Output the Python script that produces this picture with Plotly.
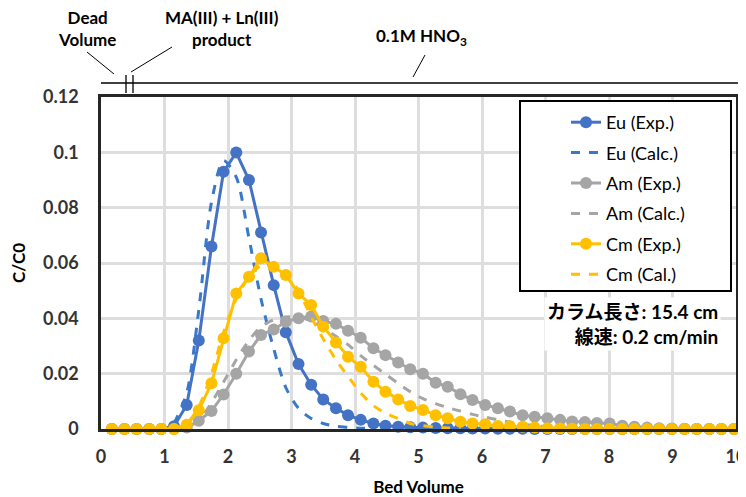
import plotly.graph_objects as go

# ---------------- data ----------------
bed_volume = [0.17, 0.37, 0.56, 0.76, 0.95, 1.15, 1.35, 1.54, 1.74, 1.93,
              2.13, 2.33, 2.52, 2.72, 2.91, 3.11, 3.31, 3.50, 3.70, 3.89,
              4.09, 4.29, 4.48, 4.68, 4.87, 5.07, 5.27, 5.46, 5.66, 5.85,
              6.05, 6.25, 6.44, 6.64, 6.83, 7.03, 7.23, 7.42, 7.62, 7.81,
              8.01, 8.21, 8.40, 8.60, 8.79, 8.99, 9.19, 9.38, 9.58, 9.77,
              9.97]

eu_exp = [0, 0, 0, 0, 0, 0.001, 0.0087, 0.032, 0.066, 0.093,
          0.0999, 0.090, 0.071, 0.052, 0.035, 0.0235, 0.016, 0.0107, 0.0075, 0.005,
          0.0033, 0.002, 0.0012, 0.0008, 0.0006, 0.0005, 0.0004, 0.0003, 0.0003, 0.0002,
          0.0002, 0.0001, 0.0001, 0.0001, 0, 0, 0, 0, 0, 0,
          0, 0, 0, 0, 0, 0, 0, 0, 0, 0,
          0]
eu_calc = [None, None, None, None, None, 0.002, 0.013, 0.043, 0.082, 0.097,
           0.091, 0.069, 0.047, 0.029, 0.015, 0.0075, 0.0038, 0.002, 0.001, 0.0006,
           0.0003, 0.0001, None, None, None, None, None, None, None, None,
           None, None, None, None, None, None, None, None, None, None,
           None, None, None, None, None, None, None, None, None, None,
           None]
am_exp = [0, 0, 0, 0, 0, 0, 0.0005, 0.003, 0.0065, 0.0125,
          0.020, 0.028, 0.034, 0.036, 0.0388, 0.040, 0.0407, 0.039, 0.038, 0.0355,
          0.033, 0.0292, 0.0267, 0.024, 0.0216, 0.020, 0.0167, 0.0153, 0.0126, 0.0105,
          0.0087, 0.0075, 0.0063, 0.005, 0.0044, 0.0039, 0.0033, 0.0027, 0.0025, 0.0022,
          0.002, 0.0012, 0.0008, 0.0005, 0.0003, 0.0002, 0.0001, 0, 0, 0,
          0]
am_calc = [None, None, None, None, None, 0, 0.0008, 0.003, 0.0095, 0.017,
           0.025, 0.032, 0.037, 0.0395, 0.0405, 0.0405, 0.039, 0.0365, 0.0335, 0.0305,
           0.0265, 0.023, 0.0198, 0.0165, 0.0135, 0.011, 0.0092, 0.0077, 0.0065, 0.0053,
           0.0043, 0.0033, 0.0025, 0.0018, 0.0012, 0.0008, 0.0005, 0.0003, None, None,
           None, None, None, None, None, None, None, None, None, None,
           None]
cm_exp = [0, 0, 0, 0, 0, 0, 0.0015, 0.0068, 0.0165, 0.0328,
          0.049, 0.055, 0.0617, 0.0586, 0.0557, 0.049, 0.0448, 0.037, 0.0313, 0.0261,
          0.0225, 0.0171, 0.0135, 0.0107, 0.0083, 0.0069, 0.005, 0.0039, 0.0026, 0.002,
          0.0017, 0.0011, 0.001, 0.0008, 0.0005, 0.0003, 0.0002, 0.0001, 0, 0,
          0, 0, 0, 0, 0, 0, 0, 0, 0, 0,
          0]
cm_calc = [None, None, None, None, None, 0, 0.002, 0.008, 0.02, 0.035,
           0.047, 0.055, 0.059, 0.059, 0.056, 0.050, 0.0405, 0.0325, 0.025, 0.019,
           0.013, 0.0085, 0.0057, 0.0038, 0.002, 0.0012, 0.0007, 0.0004, 0.0002, None,
           None, None, None, None, None, None, None, None, None, None,
           None, None, None, None, None, None, None, None, None, None,
           None]

x_ticks = [0, 1, 2, 3, 4, 5, 6, 7, 8, 9, 10]
y_ticks = [0, 0.02, 0.04, 0.06, 0.08, 0.10, 0.12]
y_tick_text = ["0", "0.02", "0.04", "0.06", "0.08", "0.1", "0.12"]

BLUE = "#4472C4"
BLUE_CALC = "#3A78C8"
GRAY = "#A5A5A5"
YELLOW = "#FFC000"

FONT = "Lato, 'Noto Sans CJK JP', sans-serif"

# The page places the figure 8 px from the top-left corner (body margin),
# so the figure is sized to end exactly at the 746x497 window edge.
OFF = 8
SCREEN_W, SCREEN_H = 746, 497
W, H = SCREEN_W - OFF, SCREEN_H - OFF
# plot-area geometry in window pixels
L, R, T, B = 101, 736, 97, 429


def PX(px):
    return (px - L) / (R - L)


def PY(py):
    return (B - py) / (B - T)


fig = go.Figure()

series = [
    ("Eu (Exp.)", eu_exp, BLUE, True),
    ("Eu (Calc.)", eu_calc, BLUE_CALC, False),
    ("Am (Exp.)", am_exp, GRAY, True),
    ("Am (Calc.)", am_calc, GRAY, False),
    ("Cm (Exp.)", cm_exp, YELLOW, True),
    ("Cm (Cal.)", cm_calc, YELLOW, False),
]
for i, (name, ys, col, exp) in enumerate(series):
    if exp:
        fig.add_trace(go.Scatter(
            x=bed_volume, y=ys, name=name, mode="lines+markers",
            line=dict(color=col, width=3),
            marker=dict(color=col, size=12),
            cliponaxis=False, legendgroup=f"g{i}"))
    else:
        fig.add_trace(go.Scatter(
            x=bed_volume, y=ys, name=name, mode="lines",
            line=dict(color=col, width=3, dash="dash", shape="spline", smoothing=0.8),
            connectgaps=False, legendgroup=f"g{i}"))

fig.update_xaxes(
    range=[0, 10], tickvals=x_ticks, showgrid=True, gridcolor="#DEDEDE", gridwidth=2.5,
    showline=True, linecolor="#262626", linewidth=2.5, mirror=True, zeroline=False,
    ticks="outside", ticklen=10, tickcolor="rgba(0,0,0,0)", automargin=False,
    ticklabeloverflow="allow",
    tickfont=dict(family=FONT, size=18, color="#333333", weight="bold"),
    title=dict(text="Bed Volume", font=dict(family=FONT, size=17, color="#000", weight="bold"),
               standoff=16),
)
fig.update_yaxes(
    range=[0, 0.12], tickvals=y_ticks, ticktext=y_tick_text, showgrid=True,
    gridcolor="#DEDEDE", gridwidth=2.5, showline=True, linecolor="#262626", linewidth=2.5,
    mirror=True, zeroline=False, ticks="outside", ticklen=16, tickcolor="rgba(0,0,0,0)",
    automargin=False, ticklabeloverflow="allow",
    tickfont=dict(family=FONT, size=18, color="#333333", weight="bold"),
    title=dict(text="C/C0", font=dict(family=FONT, size=17, color="#000", weight="bold"),
               standoff=18),
)

shapes = []
# legend box
shapes.append(dict(type="rect", xref="paper", yref="paper",
                   x0=PX(520), x1=PX(731), y0=PY(291), y1=PY(101),
                   line=dict(color="#000", width=2), fillcolor="white", layer="above"))
# eluent timeline
shapes.append(dict(type="line", xref="paper", yref="paper", x0=PX(101), x1=PX(746),
                   y0=PY(83), y1=PY(83), line=dict(color="#000", width=1.3)))
for vx in (126, 133):
    shapes.append(dict(type="line", xref="paper", yref="paper", x0=PX(vx), x1=PX(vx),
                       y0=PY(75), y1=PY(93), line=dict(color="#000", width=1.3)))
# leader lines
for (x0, y0, x1, y1) in [(87, 52, 114, 74), (172, 47, 131, 72), (425, 55, 413, 77)]:
    shapes.append(dict(type="line", xref="paper", yref="paper", x0=PX(x0), x1=PX(x1),
                       y0=PY(y0), y1=PY(y1), line=dict(color="#000", width=1)))

ann_font = dict(family=FONT, size=17, color="#000", weight="bold")
annotations = [
    dict(text="Dead<br>Volume", x=PX(87), y=PY(29), xref="paper", yref="paper",
         showarrow=False, font=ann_font, xanchor="center", yanchor="middle"),
    dict(text="MA(III) + Ln(III)<br>product", x=PX(222), y=PY(29), xref="paper", yref="paper",
         showarrow=False, font=ann_font, xanchor="center", yanchor="middle"),
    dict(text="0.1M HNO<sub>3</sub>", x=PX(421), y=PY(37), xref="paper", yref="paper",
         showarrow=False, font=ann_font, xanchor="center", yanchor="middle"),
    dict(text="カラム長さ: 15.4 cm<br>線速: 0.2 cm/min", x=PX(721), y=PY(324),
         xref="paper", yref="paper", showarrow=False, align="right",
         font=dict(family=FONT, size=19, color="#000", weight="bold"),
         xanchor="right", yanchor="middle", bgcolor="white", borderpad=2),
]

fig.update_layout(
    width=W, height=H,
    margin=dict(l=L - OFF, r=SCREEN_W - R, t=T - OFF, b=SCREEN_H - B, autoexpand=False),
    paper_bgcolor="white", plot_bgcolor="white",
    shapes=shapes, annotations=annotations,
    legend=dict(x=PX(566), y=PY(104), xanchor="left", yanchor="top",
                bgcolor="rgba(0,0,0,0)", borderwidth=0, tracegroupgap=4,
                font=dict(family=FONT, size=18, color="#000")),
    font=dict(family=FONT),
)

fig.write_html("out.html")
